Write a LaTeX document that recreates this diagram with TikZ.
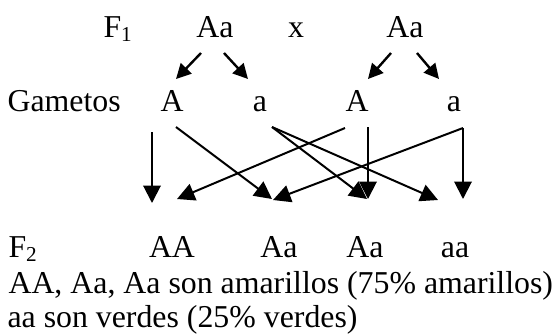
\documentclass[tikz,border=0pt]{standalone}
\usepackage{fontspec}
\setmainfont{Liberation Serif}
\usetikzlibrary{arrows.meta}
\begin{document}
\begin{tikzpicture}[x=0.377pt, y=-0.377pt, >={Triangle[length=6.6pt,width=6.6pt]},
  txt/.style={inner sep=0pt, anchor=base, font=\fontsize{12}{14}\selectfont},
  lbl/.style={txt, anchor=base west},
  cross/.style={->, line width=0.75pt},
  split/.style={-{Triangle[length=5.6pt,width=5.6pt]}, line width=0.9pt}]
\useasboundingbox (0,0) rectangle (558,334);
\node[lbl] (f1) at (103,37) {F\textsubscript{1}};
\node[txt] (p1) at (215,37) {Aa};
\node[txt] (x) at (296,37) {x};
\node[txt] (p2) at (405,37) {Aa};
\node[lbl] (gam) at (7,111) {Gametos};
\node[txt] (g1) at (172,111) {A};
\node[txt] (g2) at (260,111) {a};
\node[txt] (g3) at (357,111) {A};
\node[txt] (g4) at (454,111) {a};
\node[lbl] (f2) at (8,257) {F\textsubscript{2}};
\node[txt] (h1) at (172,257) {AA};
\node[txt] (h2) at (279,257) {Aa};
\node[txt] (h3) at (365,257) {Aa};
\node[txt] (h4) at (455,257) {aa};
\node[lbl] (r1) at (8,293) {AA, Aa, Aa son amarillos (75\% amarillos)};
\node[lbl] (r2) at (7,327) {aa son verdes (25\% verdes)};
\coordinate (p1l) at (201,53);
\coordinate (p1r) at (224,53);
\coordinate (p2l) at (391,53);
\coordinate (p2r) at (417,53);
\coordinate (g1t) at (176,79);
\coordinate (g2t) at (248,79);
\coordinate (g3t) at (368,79);
\coordinate (g4t) at (439,79);
\draw[split] (p1l) -- (g1t);
\draw[split] (p1r) -- (g2t);
\draw[split] (p2l) -- (g3t);
\draw[split] (p2r) -- (g4t);
\coordinate (g1a) at (152,132);
\coordinate (g1b) at (176,127);
\coordinate (g2a) at (272,127);
\coordinate (g3a) at (345,128);
\coordinate (g3b) at (368,127);
\coordinate (g4a) at (463,128);
\coordinate (h1a) at (152,203);
\coordinate (h1b) at (177,199);
\coordinate (h2a) at (272,199);
\coordinate (h2b) at (273,200);
\coordinate (h3a) at (367,199);
\coordinate (h3b) at (368,199);
\coordinate (h4a) at (438,200);
\coordinate (h4b) at (463,199);
\draw[cross] (g1a) -- (h1a);
\draw[cross] (g1b) -- (h2a);
\draw[cross] (g2a) -- (h3a);
\draw[cross] (g2a) -- (h4a);
\draw[cross] (g3a) -- (h1b);
\draw[cross] (g3b) -- (h3b);
\draw[cross] (g4a) -- (h4b);
\draw[cross] (g4a) -- (h2b);
\end{tikzpicture}
\end{document}
